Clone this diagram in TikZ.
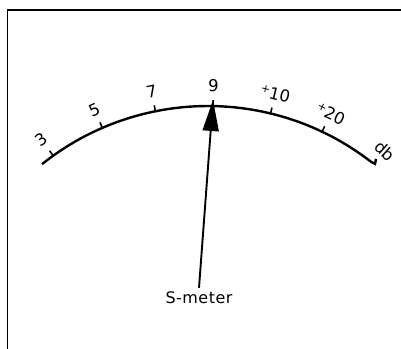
\documentclass[tikz,border=0pt]{standalone}
\usepackage{fontspec}
\setmainfont{DejaVu Sans}
\usetikzlibrary{arrows.meta,calc}
\newcommand{\smallplus}{\raisebox{0.3em}{\fontsize{11}{11}\selectfont +}}
\begin{document}
\begin{tikzpicture}[x=1bp,y=1bp,
  lbl/.style={font=\fontsize{16.5}{16.5}\selectfont, inner sep=0pt},
  scaleline/.style={line width=2.4bp},
  tickline/.style={line width=1.6bp},
  frameline/.style={line width=1.5bp},
  pointer/.style={line width=1.9bp, -{Triangle[length=31bp,width=16bp]}}]
\useasboundingbox (0,0) rectangle (401,349);
\coordinate (c) at (208,-23);
% frame
\coordinate (fb) at (7.5,0);
\coordinate (fc) at (7.5,339);
\coordinate (fr) at (401,339);
\draw[frameline] (fb) -- (fc) -- (fr);
% scale arc with hook
\coordinate (aL) at ($(c)+(128.6:266)$);
\draw[scaleline] (aL) arc[start angle=128.6,end angle=52.2,radius=266] coordinate (aR)
  -- ++(4,-2) coordinate (h1) -- ++(1,5) coordinate (h2);
% ticks and labels
\foreach \a/\t/\n in {125.6/3/l3, 113.4/5/l5, 101.4/7/l7, 88.9/9/l9,
                      76.4/\smallplus10/l10, 64.6/\smallplus20/l20}{
  \draw[tickline] ($(c)+(\a:265)$) -- ($(c)+(\a:272)$);
  \node[lbl, rotate=\a-90] (\n) at ($(c)+(\a:286)$) {\t};
}
\node[lbl, rotate=-42] (db) at ($(c)+(51.3:283)$) {db};
% pointer
\node[lbl, font=\fontsize{16}{16}\selectfont\addfontfeature{LetterSpace=3}] (smeter) at (199,51) {S-meter};
\coordinate (tip) at (213,249);
\draw[pointer] ([shift={(0,4)}]smeter.north) -- (tip);
\end{tikzpicture}
\end{document}
